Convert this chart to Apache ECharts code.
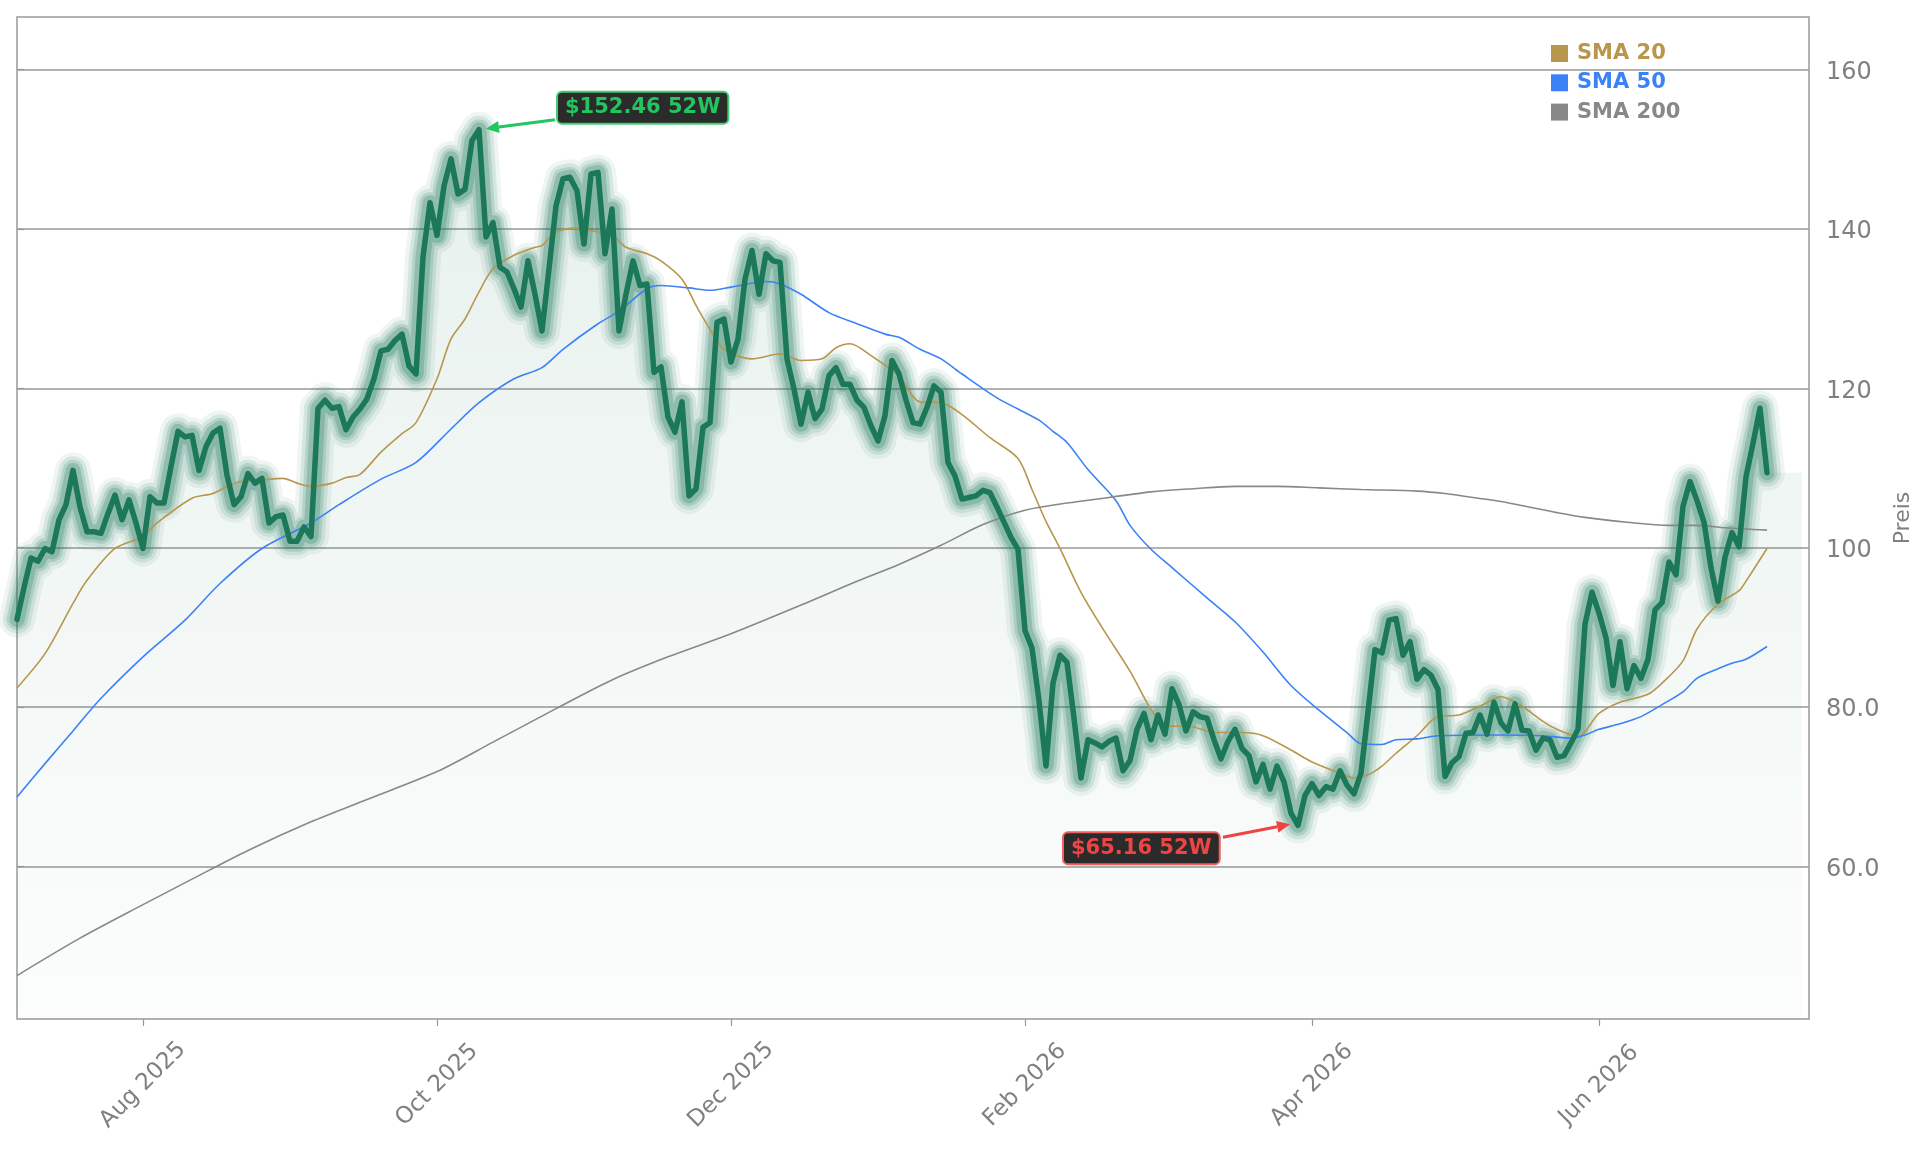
<!DOCTYPE html>
<html><head><meta charset="utf-8">
<script src="https://cdn.jsdelivr.net/npm/echarts@6/dist/echarts.min.js"></script>
<style>html,body{margin:0;padding:0;background:#fff}#chart{width:1929px;height:1151px}</style>
</head><body><div id="chart"></div>
<script>
// x positions are trading-day indices (first day = Jul 8 2025)
const tickIndex = [18, 60, 102, 144, 185, 226];
const tickLabels = ['Aug 2025', 'Oct 2025', 'Dec 2025', 'Feb 2026', 'Apr 2026', 'Jun 2026'];
const yTicks = [60, 80, 100, 120, 140, 160];

const price = [
 91.0, 95.0, 98.7, 98.3, 99.9, 99.5, 103.5, 105.4, 109.7, 105.1,
 102.0, 102.0, 101.8, 104.3, 106.6, 103.5, 106.0, 103.1, 99.9, 106.4,
 105.6, 105.6, 110.2, 114.6, 113.9, 114.1, 109.7, 112.7, 114.4, 115.0,
 109.1, 105.4, 106.4, 109.3, 108.1, 108.7, 103.1, 103.9, 104.1, 100.8,
 100.8, 102.6, 101.4, 117.5, 118.5, 117.5, 117.7, 114.8, 116.4, 117.4,
 118.7, 121.2, 124.7, 124.9, 126.0, 126.8, 122.8, 121.8, 136.5, 143.3,
 139.2, 145.4, 148.8, 144.4, 145.0, 151.1, 152.46, 139.0, 140.8, 135.2,
 134.6, 132.5, 130.2, 136.0, 131.8, 127.2, 135.0, 142.9, 146.3, 146.5,
 144.8, 138.1, 146.9, 147.1, 136.9, 142.5, 127.2, 131.8, 136.0, 132.9,
 133.1, 122.0, 122.7, 116.4, 114.5, 118.3, 106.5, 107.4, 115.1, 115.7,
 128.3, 128.7, 123.3, 126.2, 133.7, 137.3, 131.8, 136.9, 136.0, 135.8,
 123.7, 119.9, 115.5, 119.5, 116.2, 117.4, 121.6, 122.6, 120.5, 120.5,
 118.5, 117.6, 115.3, 113.4, 116.6, 123.5, 121.8, 118.5, 115.7, 115.5,
 117.6, 120.3, 119.5, 110.7, 109.0, 106.1, 106.3, 106.5, 107.2, 106.9,
 105.1, 103.2, 101.3, 99.8, 89.6, 87.4, 80.8, 72.6, 83.0, 86.5,
 85.6, 78.6, 71.1, 75.9, 75.5, 75.0, 75.7, 76.1, 72.0, 73.3,
 77.2, 79.2, 75.9, 79.0, 76.6, 82.3, 80.3, 77.0, 79.4, 78.8,
 78.6, 75.9, 73.5, 75.7, 77.2, 74.8, 73.9, 70.6, 72.8, 69.7,
 72.6, 70.6, 66.7, 65.16, 68.9, 70.4, 68.9, 70.0, 69.7, 72.0,
 70.2, 69.1, 71.7, 79.4, 87.2, 86.8, 90.9, 91.1, 86.5, 88.2,
 83.5, 84.7, 84.0, 82.2, 71.3, 73.0, 73.8, 76.7, 76.8, 79.0,
 76.6, 80.6, 78.0, 77.0, 80.4, 77.1, 77.0, 74.6, 76.1, 75.9,
 73.7, 73.9, 75.5, 77.2, 90.4, 94.4, 91.8, 88.7, 82.7, 88.2,
 82.3, 85.2, 83.6, 86.0, 92.2, 93.1, 98.2, 96.6, 105.2, 108.3,
 105.9, 103.2, 97.5, 93.3, 98.8, 101.9, 100.1, 108.9, 113.1, 117.5,
 109.4
];

const sma20 = [[0,82.4],[4,86.7],[8,93.0],[10,95.9],[14,99.9],[18,101.4],[20,103.1],[25,106.2],[28,106.8],[30,107.7],[32,108.3],[35,108.5],[38,108.7],[40,108.1],[42,107.7],[45,108.1],[47,108.8],[49,109.2],[52,112.0],[55,114.3],[57,115.7],[60,121.2],[62,126.2],[64,128.7],[66,132.1],[68,135.0],[71,136.7],[74,137.7],[75,137.9],[77,139.6],[80,140.1],[82,139.8],[85,139.2],[87,137.7],[90,136.9],[92,136.0],[95,133.7],[97,130.4],[99,127.4],[101,124.9],[105,123.7],[109,124.3],[112,123.5],[115,123.7],[117,125.1],[119,125.6],[122,124.1],[126,121.5],[129,118.3],[132,118.2],[135,116.7],[139,113.8],[143,111.2],[145,107.3],[147,103.3],[149,99.9],[152,94.4],[155,90.0],[159,84.5],[162,79.7],[164,77.7],[168,77.5],[171,76.8],[175,76.8],[178,76.4],[182,74.6],[185,73.1],[189,71.7],[191,71.1],[193,71.5],[195,72.6],[197,74.2],[200,76.4],[203,78.8],[206,79.0],[209,80.1],[212,81.3],[215,80.1],[218,78.2],[220,77.2],[223,76.3],[226,79.2],[229,80.6],[233,81.6],[235,83.0],[238,85.8],[240,89.8],[243,92.9],[246,94.6],[247,95.8],[250,99.9]];

const sma50 = [[0,68.7],[4,72.9],[8,77.0],[12,81.1],[18,86.3],[24,90.9],[29,95.5],[35,99.9],[42,103.1],[46,105.4],[52,108.6],[57,110.7],[62,114.9],[66,118.2],[71,121.2],[75,122.6],[78,124.9],[83,128.1],[86,129.7],[90,132.5],[92,132.9],[96,132.6],[99,132.3],[102,132.7],[107,133.4],[109,133.1],[112,131.8],[116,129.5],[120,128.1],[124,126.8],[126,126.4],[129,124.9],[132,123.7],[135,121.8],[140,118.8],[143,117.4],[146,116.0],[148,114.6],[150,113.2],[153,109.8],[157,105.9],[159,102.8],[162,99.8],[165,97.5],[170,93.7],[174,90.7],[178,86.9],[182,82.7],[186,79.6],[190,76.8],[192,75.4],[195,75.3],[197,75.9],[200,76.0],[203,76.4],[212,76.5],[218,76.4],[222,76.1],[224,76.5],[226,77.2],[229,77.9],[232,78.8],[235,80.3],[238,81.9],[240,83.6],[243,84.8],[245,85.5],[247,86.0],[250,87.6]];

const sma200 = [[0,46.3],[9,51.0],[18,55.2],[25,58.4],[33,62.0],[42,65.6],[50,68.4],[60,71.9],[68,75.6],[77,79.8],[85,83.4],[93,86.3],[102,89.2],[112,92.8],[120,95.8],[126,97.9],[132,100.3],[138,102.9],[144,104.7],[150,105.6],[156,106.3],[162,107.0],[168,107.4],[174,107.7],[180,107.7],[186,107.5],[192,107.3],[200,107.1],[204,106.8],[208,106.3],[212,105.8],[216,105.1],[220,104.4],[224,103.8],[230,103.2],[236,102.8],[240,102.8],[244,102.5],[250,102.2]];

const fillEndIndex = 255;
const xMax = 256, yMin = 40.85, yMax = 166.6;

const FONT = 'DejaVu Sans';
const GREEN = '#1b7858';
const C20 = '#b8964c', C50 = '#3b82f6', C200 = '#888888';

const pricePairs = price.map((v, i) => [i, v]);
const fillPairs = pricePairs.concat([[fillEndIndex, price[price.length - 1]]]);

const glow = [[36, 0.07], [28, 0.12], [21, 0.17], [15, 0.24]];

const series = [];
series.push({
  type: 'line', name: 'fill', data: fillPairs, symbol: 'none', silent: true, z: 1,
  lineStyle: { width: 0, opacity: 0 },
  areaStyle: {
    origin: 'start',
    color: new echarts.graphic.LinearGradient(0, 0, 0, 1, [
      { offset: 0, color: 'rgba(27,120,88,0.15)' },
      { offset: 1, color: 'rgba(27,120,88,0.02)' }
    ])
  }
});
glow.forEach(([w, a]) => series.push({
  type: 'line', name: 'glow' + w, data: pricePairs, symbol: 'none', silent: true, z: 2,
  lineStyle: { width: w, color: 'rgba(27,120,88,' + a + ')', cap: 'round', join: 'round' }
}));
[['SMA 20', sma20, C20], ['SMA 50', sma50, C50], ['SMA 200', sma200, C200]].forEach(([n, d, c]) => series.push({
  type: 'line', name: n, data: d, symbol: 'none', smooth: 0.3, z: 3,
  itemStyle: { color: c }, lineStyle: { width: 1.6, color: c }
}));
series.push({
  type: 'line', name: 'Preis', data: pricePairs, symbol: 'none', z: 4,
  lineStyle: { width: 5.5, color: GREEN, cap: 'round', join: 'round' }
});

const chart = echarts.init(document.getElementById('chart'), null, { renderer: 'canvas' });
const option = {
  animation: false,
  backgroundColor: '#ffffff',
  textStyle: { fontFamily: FONT },
  grid: { left: 17, right: 120, top: 17, bottom: 132, show: true, borderColor: '#999', borderWidth: 1.5, backgroundColor: 'transparent', containLabel: false, outerBoundsMode: 'none' },
  legend: {
    show: true, orient: 'vertical', left: 1551, top: 43, padding: 0,
    itemWidth: 17, itemHeight: 17, itemGap: 8.3, icon: 'rect', selectedMode: false,
    textStyle: { fontSize: 21, fontWeight: 'bold', fontFamily: FONT, lineHeight: 17, padding: [0, 0, 0, 4] },
    data: [
      { name: 'SMA 20', textStyle: { color: C20 } },
      { name: 'SMA 50', textStyle: { color: C50 } },
      { name: 'SMA 200', textStyle: { color: C200 } }
    ]
  },
  xAxis: {
    type: 'value', min: 0, max: xMax,
    axisLine: { show: false },
    splitLine: { show: false },
    axisTick: { show: true, customValues: tickIndex, length: 7, lineStyle: { color: '#999', width: 1.2 } },
    axisLabel: {
      customValues: tickIndex, rotate: 45, align: 'center', verticalAlign: 'middle', margin: 66,
      color: '#808080', fontSize: 23, fontFamily: FONT,
      formatter: v => tickLabels[tickIndex.indexOf(Math.round(v))] || ''
    }
  },
  yAxis: {
    type: 'value', position: 'right', min: yMin, max: yMax,
    name: 'Preis', nameLocation: 'middle', nameGap: 83, nameRotate: 90,
    nameTextStyle: { color: '#808080', fontSize: 22, fontFamily: FONT },
    axisLine: { show: false },
    axisTick: { show: true, customValues: yTicks, length: 7.5, lineStyle: { color: '#999', width: 1.2 } },
    axisLabel: {
      customValues: yTicks, margin: 17, color: '#808080', fontSize: 24, fontFamily: FONT,
      formatter: v => '{t|' + (v >= 100 ? String(Math.round(v)) : v.toFixed(1)) + '}',
      rich: { t: { color: '#808080', fontSize: 24, fontFamily: FONT, padding: [6, 0, 0, 0] } }
    },
    splitLine: { show: true, lineStyle: { color: '#999', width: 1.5 } }
  },
  series: series
};
chart.setOption(option);

function arrow(tail, tip, color) {
  const dx = tip[0] - tail[0], dy = tip[1] - tail[1];
  const L = Math.sqrt(dx * dx + dy * dy), ux = dx / L, uy = dy / L;
  const hl = 13, hw = 6;
  const bx = tip[0] - ux * hl, by = tip[1] - uy * hl;
  return [
    { type: 'line', z: 100, shape: { x1: tail[0], y1: tail[1], x2: bx, y2: by }, style: { stroke: color, lineWidth: 3 } },
    { type: 'polygon', z: 100, shape: { points: [tip, [bx - uy * hw, by + ux * hw], [bx + uy * hw, by - ux * hw]] }, style: { fill: color } }
  ];
}

const hiVal = Math.max(...price), hiIdx = price.indexOf(hiVal);
const loVal = Math.min(...price), loIdx = price.indexOf(loVal);
const ph = chart.convertToPixel({ xAxisIndex: 0, yAxisIndex: 0 }, [hiIdx, hiVal]);
const pl = chart.convertToPixel({ xAxisIndex: 0, yAxisIndex: 0 }, [loIdx, loVal]);
const HI = '#22c55e', LO = '#ef4444';
const graphics = [];
graphics.push(...arrow([ph[0] + 76, ph[1] - 10], [ph[0] + 7, ph[1] - 1], HI));
graphics.push({
  type: 'text', z: 101, x: ph[0] + 79, y: ph[1] - 37,
  style: { text: '$' + hiVal.toFixed(2) + ' 52W', fill: HI, fontSize: 21, fontWeight: 'bold', fontFamily: FONT,
    backgroundColor: '#2b2b2b', borderColor: 'rgba(34,197,94,0.85)', borderWidth: 2, borderRadius: 4,
    padding: [4, 7, 4, 7], lineHeight: 22, align: 'left', verticalAlign: 'top' }
});
graphics.push(...arrow([pl[0] - 75, pl[1] + 12], [pl[0] - 8, pl[1] - 1], LO));
graphics.push({
  type: 'text', z: 101, x: pl[0] - 234, y: pl[1] + 8,
  style: { text: '$' + loVal.toFixed(2) + ' 52W', fill: LO, fontSize: 21, fontWeight: 'bold', fontFamily: FONT,
    backgroundColor: '#2b2b2b', borderColor: 'rgba(239,68,68,0.85)', borderWidth: 2, borderRadius: 4,
    padding: [4, 7, 4, 7], lineHeight: 22, align: 'left', verticalAlign: 'top' }
});
chart.setOption({ graphic: graphics });
</script>
</body></html>
